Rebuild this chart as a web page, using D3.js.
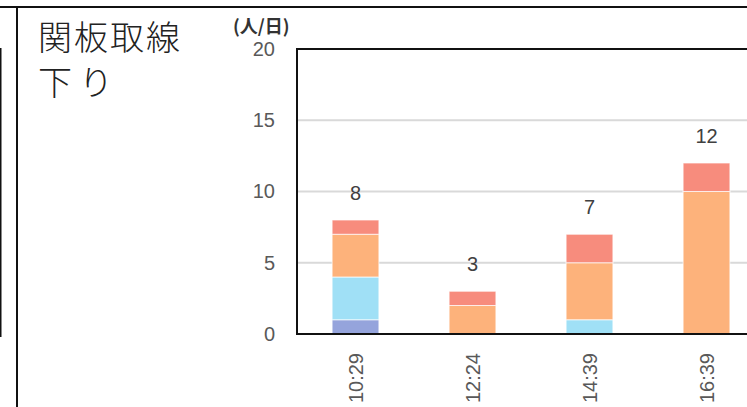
<!DOCTYPE html>
<html>
<head>
<meta charset="utf-8">
<script src="https://cdn.jsdelivr.net/npm/d3@7"></script>
<style>
html,body{margin:0;padding:0;background:#fff;}
svg{display:block;}
</style>
</head>
<body>
<svg id="chart" width="747" height="407"></svg>
<script>
const categories = ["10:29", "12:24", "14:39", "16:39"];
const seriesNames = ["s1", "s2", "s3", "s4"];
const seriesS1 = [1, 0, 0, 0];
const seriesS2 = [3, 0, 1, 0];
const seriesS3 = [3, 2, 4, 10];
const seriesS4 = [1, 1, 2, 2];
const seriesColors = ["#95a4dc", "#a0e0f6", "#fdb27b", "#f78c7d"];
const yTicks = [0, 5, 10, 15, 20];
const titleLines = ["関板取線", "下り"];
const unitLabel = "(人/日)";

const svg = d3.select("#chart");

// outer frame lines
svg.append("line").attr("x1", 0).attr("x2", 747).attr("y1", 7).attr("y2", 7)
  .attr("stroke", "#111").attr("stroke-width", 2);
svg.append("line").attr("x1", 17).attr("x2", 17).attr("y1", 7).attr("y2", 407)
  .attr("stroke", "#111").attr("stroke-width", 2);
svg.append("line").attr("x1", 0.5).attr("x2", 0.5).attr("y1", 48).attr("y2", 337)
  .attr("stroke", "#111").attr("stroke-width", 2);

// title
const title = svg.append("text")
  .attr("font-family", "'Noto Sans CJK JP', sans-serif")
  .attr("font-weight", 300)
  .attr("font-size", 34)
  .attr("fill", "#222");
titleLines.forEach((t, i) => {
  title.append("tspan").attr("x", 38).attr("y", 50 + i * 45)
    .attr("letter-spacing", i === 0 ? 2 : 7).text(t);
});

// scales
const plotLeft = 297, plotTop = 49, plotBottom = 334;
const x = d3.scaleBand().domain(categories)
  .range([plotLeft, plotLeft + 4 * 117])
  .paddingInner(0.6).paddingOuter(0.3);
const y = d3.scaleLinear().domain([0, 20]).range([plotBottom, plotTop]);

// gridlines
svg.append("g").selectAll("line").data(yTicks.filter(d => d > 0 && d < 20)).join("line")
  .attr("x1", plotLeft).attr("x2", 747)
  .attr("y1", d => y(d)).attr("y2", d => y(d))
  .attr("stroke", "#d9d9d9").attr("stroke-width", 2);

// stacked bars
const table = categories.map((c, i) => ({
  cat: c, s1: seriesS1[i], s2: seriesS2[i], s3: seriesS3[i], s4: seriesS4[i]
}));
const stack = d3.stack().keys(seriesNames)(table);
const color = d3.scaleOrdinal().domain(seriesNames).range(seriesColors);

svg.append("g").selectAll("g").data(stack).join("g")
  .attr("fill", d => color(d.key))
  .selectAll("rect").data(d => d.filter(p => p[1] - p[0] > 0)).join("rect")
  .attr("x", d => x(d.data.cat))
  .attr("width", x.bandwidth())
  .attr("y", d => y(d[1]))
  .attr("height", d => y(d[0]) - y(d[1]))
  .attr("stroke", "rgba(255,255,255,0.7)")
  .attr("stroke-width", 1);

// totals
svg.append("g").selectAll("text").data(table).join("text")
  .attr("x", d => x(d.cat) + x.bandwidth() / 2)
  .attr("y", d => y(d.s1 + d.s2 + d.s3 + d.s4) - 20)
  .attr("text-anchor", "middle")
  .attr("font-family", "'Liberation Sans', Arial, sans-serif")
  .attr("font-size", 20)
  .attr("fill", "#404040")
  .text(d => d.s1 + d.s2 + d.s3 + d.s4);

// y axis
const yAxis = d3.axisLeft(y).tickValues(yTicks).tickSize(0).tickPadding(22);
const gy = svg.append("g").attr("transform", `translate(${plotLeft},0)`).call(yAxis);
gy.select(".domain").remove();
gy.selectAll("text")
  .attr("font-family", "'Liberation Sans', Arial, sans-serif")
  .attr("font-size", 20)
  .attr("fill", "#595959");

// x axis
const xAxis = d3.axisBottom(x).tickSize(0);
const gx = svg.append("g").attr("transform", `translate(0,${plotBottom})`).call(xAxis);
gx.select(".domain").remove();
gx.selectAll("text")
  .attr("font-family", "'Liberation Sans', Arial, sans-serif")
  .attr("font-size", 20)
  .attr("fill", "#595959")
  .attr("text-anchor", "end")
  .attr("transform", "translate(0,19) rotate(-90)")
  .attr("x", 0).attr("y", 0).attr("dy", "0.35em");

// plot frame (top, left, bottom)
svg.append("path")
  .attr("d", `M747,${plotTop}H${plotLeft}V${plotBottom}H747`)
  .attr("fill", "none").attr("stroke", "#111").attr("stroke-width", 2);

// unit label
svg.append("text")
  .attr("x", 233).attr("y", 33)
  .attr("font-family", "'Noto Sans CJK JP', sans-serif")
  .attr("font-weight", 700)
  .attr("font-size", 18)
  .attr("fill", "#333")
  .text(unitLabel);
</script>
</body>
</html>
